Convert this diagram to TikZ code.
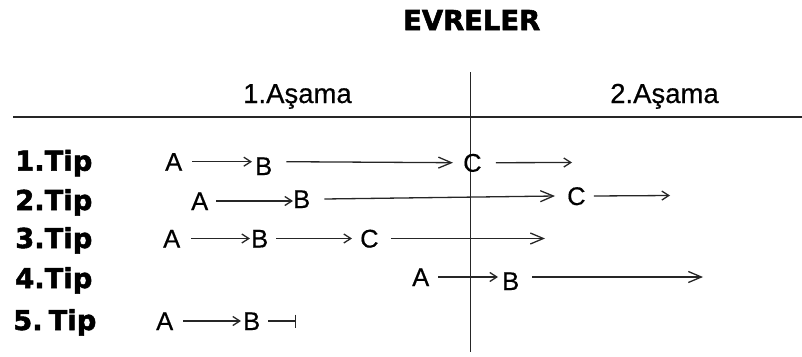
\documentclass[tikz,border=0pt]{standalone}
\usepackage{fontspec}
\setmainfont{Liberation Sans}[FakeBold=0.5,BoldFont={Liberation Sans},BoldFeatures={FakeBold=0.5}]
\newfontfamily\heavy{DejaVu Sans}[BoldFeatures={FakeBold=2}]
\usetikzlibrary{arrows.meta}
\tikzset{
 lt/.style={font=\fontsize{25.5}{30}\selectfont, inner sep=0pt, text height=18pt, text depth=0pt, anchor=base west},
 tiplbl/.style={font=\heavy\bfseries\fontsize{27.4}{32}\selectfont, inner sep=0pt, anchor=base west},
 hdr/.style={font=\fontsize{27.5}{32}\selectfont, inner sep=0pt, anchor=base west},
 ln/.style={draw=black!85, line width=1.3pt},
 arr/.style={ln, -{Straight Barb[length=7pt,width=9pt]}},
 arrl/.style={ln, -{Straight Barb[length=13pt,width=11pt]}},
 barend/.style={ln, -{Bar[width=13pt]}},
}
\begin{document}
\begin{tikzpicture}[x=1pt,y=-1pt]
\useasboundingbox (0,0) rectangle (802,356);
% title and headers
\node[tiplbl] (title) at (403,30) {EVRELER};
\node[hdr] (h1) at (243,103) {1.Aşama};
\node[hdr] (h2) at (610,103) {2.Aşama};
\coordinate (hl) at (13,117);
\coordinate (hr) at (802,117);
\coordinate (vt) at (470.7,72);
\coordinate (vb) at (470.7,352);
\draw[ln] (hl) -- (hr);
\draw[ln] (vt) -- (vb);
% tip labels
\node[tiplbl] (t1) at (15,170.7) {1.Tip};
\node[tiplbl] (t2) at (15,210) {2.Tip};
\node[tiplbl] (t3) at (15,248) {3.Tip};
\node[tiplbl] (t4) at (15,288) {4.Tip};
\node[tiplbl] (t5) at (13,330) {5.\hspace{6pt}Tip};
% row 1
\node[lt] (a1) at (165,170.7) {A};
\node[lt] (b1) at (255,175) {B};
\node[lt] (c1) at (463,171.7) {C};
\coordinate (e1) at (572,162.5);
\draw[arr] ([xshift=10pt]a1.east) -- ([xshift=-3pt]a1.east -| b1.west);
\draw[arrl] ([xshift=14pt]b1.east |- a1.east) -- ([xshift=-10pt]c1.west);
\draw[arr] ([xshift=14pt]c1.east) -- (e1);
% row 2
\node[lt] (a2) at (191,210) {A};
\node[lt] (b2) at (293,208) {B};
\node[lt] (c2) at (567,205) {C};
\coordinate (e2) at (670,195.5);
\draw[arr] ([xshift=8pt]a2.east) -- (a2.east -| b2.west);
\draw[arrl] ([xshift=14pt]b2.east) -- ([xshift=-12pt]c2.west);
\draw[arr] ([xshift=8pt]c2.east) -- (e2);
% row 3
\node[lt] (a3) at (163,247.5) {A};
\node[lt] (b3) at (251,247.5) {B};
\node[lt] (c3) at (360,247.5) {C};
\coordinate (e3) at (545,238.5);
\draw[arr] ([xshift=11pt]a3.east) -- ([xshift=-1pt]b3.west);
\draw[arr] ([xshift=8pt]b3.east) -- ([xshift=-8pt]c3.west);
\draw[arrl] ([xshift=12pt]c3.east) -- (e3);
% row 4
\node[lt] (a4) at (412,286) {A};
\node[lt] (b4) at (502,290) {B};
\coordinate (e4) at (703,277);
\draw[arr] ([xshift=9pt]a4.east) -- ([xshift=-4pt]a4.east -| b4.west);
\draw[arrl] ([xshift=13pt]b4.east |- a4.east) -- (e4);
% row 5
\node[lt] (a5) at (156,330) {A};
\node[lt] (b5) at (243,330) {B};
\coordinate (e5) at (296,321);
\draw[arr] ([xshift=10pt]a5.east) -- ([xshift=-2pt]b5.west);
\draw[barend] ([xshift=8pt]b5.east) -- (e5);
\end{tikzpicture}
\end{document}
